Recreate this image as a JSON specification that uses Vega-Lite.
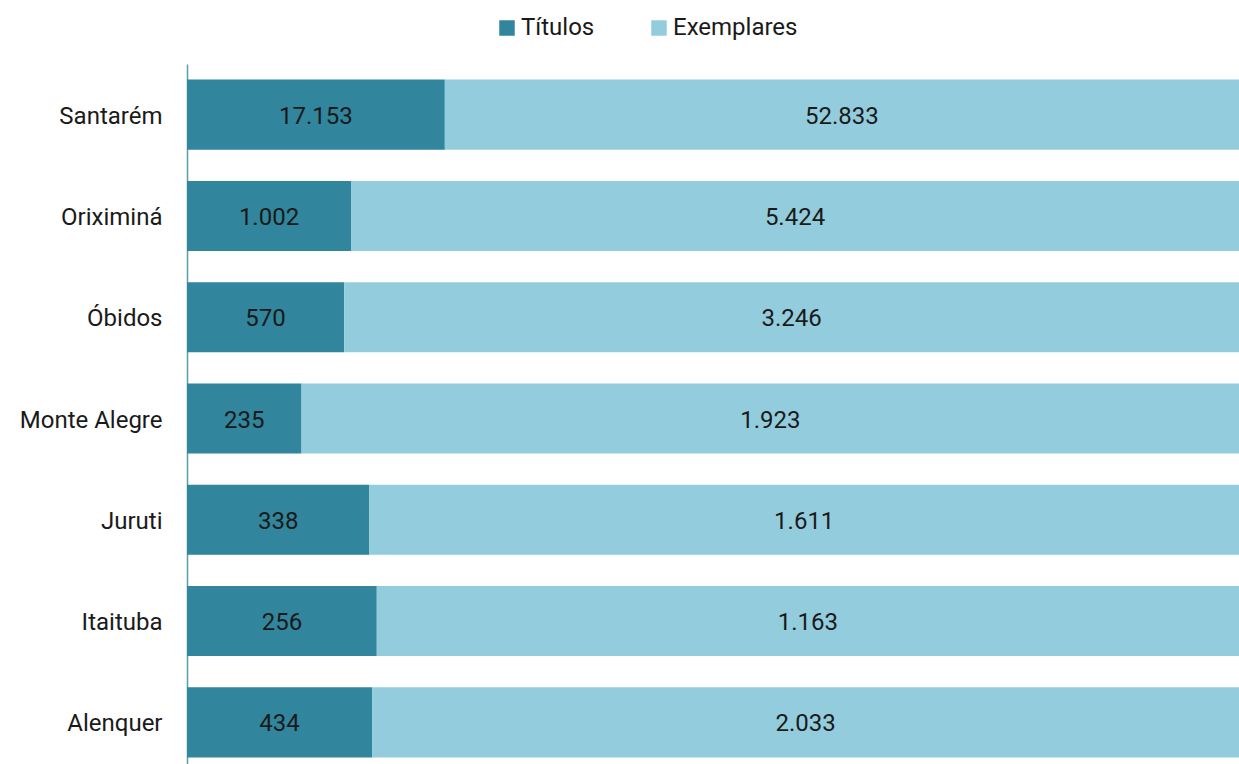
{
  "$schema": "https://vega.github.io/schema/vega-lite/v6.json",
  "width": 1052,
  "height": 709,
  "autosize": {"type": "none"},
  "padding": {"left": 187, "top": 64, "right": 0, "bottom": 0},
  "background": "white",
  "config": {
    "view": {"stroke": null},
    "font": "Roboto",
    "text": {"font": "Roboto"}
  },
  "data": {
    "values": [
      {"cidade": "Santarém", "serie": "Títulos", "ordem": 0, "valor": 17153, "rotulo": "17.153"},
      {"cidade": "Santarém", "serie": "Exemplares", "ordem": 1, "valor": 52833, "rotulo": "52.833"},
      {"cidade": "Oriximiná", "serie": "Títulos", "ordem": 0, "valor": 1002, "rotulo": "1.002"},
      {"cidade": "Oriximiná", "serie": "Exemplares", "ordem": 1, "valor": 5424, "rotulo": "5.424"},
      {"cidade": "Óbidos", "serie": "Títulos", "ordem": 0, "valor": 570, "rotulo": "570"},
      {"cidade": "Óbidos", "serie": "Exemplares", "ordem": 1, "valor": 3246, "rotulo": "3.246"},
      {"cidade": "Monte Alegre", "serie": "Títulos", "ordem": 0, "valor": 235, "rotulo": "235"},
      {"cidade": "Monte Alegre", "serie": "Exemplares", "ordem": 1, "valor": 1923, "rotulo": "1.923"},
      {"cidade": "Juruti", "serie": "Títulos", "ordem": 0, "valor": 338, "rotulo": "338"},
      {"cidade": "Juruti", "serie": "Exemplares", "ordem": 1, "valor": 1611, "rotulo": "1.611"},
      {"cidade": "Itaituba", "serie": "Títulos", "ordem": 0, "valor": 256, "rotulo": "256"},
      {"cidade": "Itaituba", "serie": "Exemplares", "ordem": 1, "valor": 1163, "rotulo": "1.163"},
      {"cidade": "Alenquer", "serie": "Títulos", "ordem": 0, "valor": 434, "rotulo": "434"},
      {"cidade": "Alenquer", "serie": "Exemplares", "ordem": 1, "valor": 2033, "rotulo": "2.033"}
    ]
  },
  "encoding": {
    "y": {
      "field": "cidade",
      "type": "nominal",
      "sort": ["Santarém", "Oriximiná", "Óbidos", "Monte Alegre", "Juruti", "Itaituba", "Alenquer"],
      "scale": {"paddingInner": 0.308, "paddingOuter": 0.154},
      "axis": {
        "title": null,
        "ticks": false,
        "labelFontSize": 24,
        "labelColor": "#1a1a1a",
        "labelPadding": 25,
        "labelBaseline": "middle",
        "labelOffset": 2,
        "domainColor": "#5a9db0",
        "domainWidth": 1.5
      }
    },
    "order": {"field": "ordem", "type": "quantitative"}
  },
  "layer": [
    {
      "mark": {"type": "bar"},
      "encoding": {
        "x": {
          "field": "valor",
          "type": "quantitative",
          "stack": "normalize",
          "scale": {"domain": [0, 1], "nice": false},
          "axis": null
        },
        "color": {
          "field": "serie",
          "type": "nominal",
          "scale": {"domain": ["Títulos", "Exemplares"], "range": ["#31859c", "#93cddd"]},
          "legend": {
            "title": null,
            "orient": "none",
            "direction": "horizontal",
            "legendX": 308,
            "legendY": -48,
            "symbolType": "square",
            "symbolSize": 240,
            "symbolOpacity": 1,
            "labelFontSize": 24,
            "labelColor": "#1a1a1a",
            "labelOffset": 2,
            "columnPadding": 52
          }
        }
      }
    },
    {
      "mark": {"type": "text", "fontSize": 24, "color": "#1a1a1a", "align": "center", "baseline": "middle", "dy": 2},
      "encoding": {
        "x": {
          "field": "valor",
          "type": "quantitative",
          "stack": "normalize",
          "bandPosition": 0.5
        },
        "detail": {"field": "serie"},
        "text": {"field": "rotulo"}
      }
    }
  ]
}
